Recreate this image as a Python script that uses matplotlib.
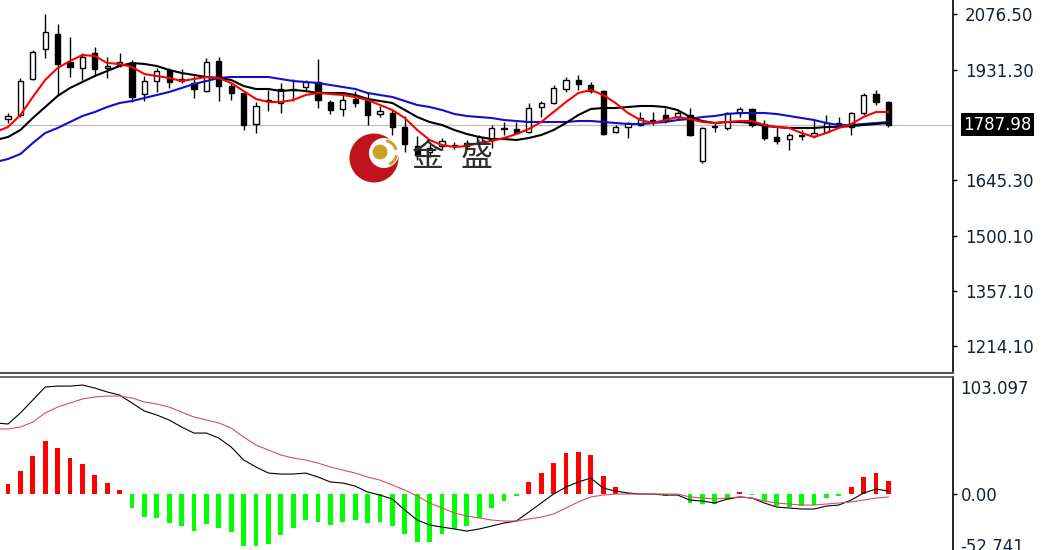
import matplotlib
matplotlib.use("Agg")
import matplotlib.pyplot as plt
import matplotlib.transforms as mtransforms
from matplotlib.patches import Circle, Wedge
import numpy as np

# daily candles (72 bars)
opens = [1803.5, 1813.9, 1907.5, 1985.5, 2024.5, 1951.7, 1936.1, 1975.1, 1936.1, 1943.9,
         1949.1, 1868.5, 1902.3, 1930.9, 1907.5, 1897.1, 1876.3, 1954.3, 1889.3, 1871.1,
         1790.5, 1850.3, 1845.1, 1878.9, 1886.7, 1899.7, 1847.7, 1829.5, 1855.5, 1855.5,
         1816.5, 1819.1, 1782.7, 1733.3, 1717.7, 1733.3, 1735.9, 1733.3, 1743.7, 1748.9,
         1777.5, 1777.5, 1769.7, 1834.7, 1845.1, 1881.5, 1904.9, 1891.9, 1876.3, 1769.7,
         1782.7, 1787.9, 1798.3, 1813.9, 1808.7, 1813.9, 1694.3, 1782.7, 1780.1, 1819.1,
         1829.5, 1790.5, 1756.7, 1751.5, 1759.3, 1759.3, 1769.7, 1793.1, 1782.7, 1819.1,
         1868.5, 1847.7]
highs = [1819.1, 1910.1, 1982.9, 2076.5, 2050.5, 2016.7, 1975.1, 1990.7, 1964.7, 1975.1,
         1956.9, 1915.3, 1936.1, 1936.1, 1933.5, 1915.3, 1962.1, 1964.7, 1897.1, 1873.7,
         1847.7, 1878.9, 1897.1, 1907.5, 1904.9, 1959.5, 1852.9, 1865.9, 1876.3, 1871.1,
         1837.3, 1829.5, 1811.3, 1759.3, 1738.5, 1754.1, 1743.7, 1748.9, 1761.9, 1787.9,
         1795.7, 1795.7, 1845.1, 1850.3, 1891.9, 1912.7, 1917.9, 1899.7, 1878.9, 1787.9,
         1795.7, 1821.7, 1821.7, 1832.1, 1826.9, 1832.1, 1782.7, 1795.7, 1821.7, 1834.7,
         1832.1, 1800.9, 1782.7, 1767.1, 1774.9, 1800.9, 1813.9, 1808.7, 1821.7, 1871.1,
         1878.9, 1850.3]
lows = [1793.1, 1808.7, 1904.9, 1962.1, 1865.9, 1912.7, 1904.9, 1915.3, 1910.1, 1938.7,
        1847.7, 1850.3, 1873.7, 1884.1, 1897.1, 1858.1, 1873.7, 1850.3, 1852.9, 1774.9,
        1767.1, 1824.3, 1819.1, 1850.3, 1873.7, 1832.1, 1816.5, 1811.3, 1834.7, 1787.9,
        1808.7, 1761.9, 1717.7, 1696.9, 1704.7, 1722.9, 1725.5, 1725.5, 1735.9, 1728.1,
        1761.9, 1767.1, 1767.1, 1808.7, 1842.5, 1873.7, 1878.9, 1871.1, 1761.9, 1767.1,
        1754.1, 1785.3, 1787.9, 1793.1, 1800.9, 1759.3, 1689.1, 1769.7, 1774.9, 1808.7,
        1782.7, 1748.9, 1738.5, 1722.9, 1748.9, 1754.1, 1767.1, 1782.7, 1761.9, 1813.9,
        1839.9, 1782.7]
closes = [1811.3, 1902.3, 1977.7, 2029.7, 1946.5, 1938.7, 1964.7, 1933.5, 1941.3, 1951.7,
          1860.7, 1902.3, 1928.3, 1899.7, 1902.3, 1881.5, 1951.7, 1889.3, 1871.1, 1787.9,
          1837.3, 1852.9, 1881.5, 1881.5, 1899.7, 1852.9, 1826.9, 1852.9, 1845.1, 1813.9,
          1824.3, 1782.7, 1738.5, 1709.9, 1728.1, 1746.3, 1733.3, 1741.1, 1756.7, 1780.1,
          1780.1, 1767.1, 1832.1, 1845.1, 1884.1, 1904.9, 1894.5, 1876.3, 1764.5, 1782.7,
          1793.1, 1806.1, 1800.9, 1800.9, 1819.1, 1761.9, 1780.1, 1785.3, 1819.1, 1829.5,
          1787.9, 1754.1, 1746.3, 1761.9, 1761.9, 1767.1, 1793.1, 1785.3, 1819.1, 1865.9,
          1847.7, 1787.98]
last_price = 1787.98

# moving averages, first value belongs to the bar just left of the window
ma_red = [1769.7, 1782.7, 1813.9, 1860.7, 1904.9, 1936.1, 1954.3, 1969.9, 1967.3, 1949.1, 1946.5,
          1938.7, 1920.5, 1915.3, 1910.1, 1902.3, 1907.5, 1912.7, 1910.1, 1897.1, 1876.3,
          1855.5, 1847.7, 1847.7, 1852.9, 1865.9, 1871.1, 1868.5, 1865.9, 1860.7, 1852.9,
          1839.9, 1826.9, 1806.1, 1774.9, 1748.9, 1735.9, 1730.7, 1733.3, 1741.1, 1746.3,
          1754.1, 1764.5, 1777.5, 1795.7, 1821.7, 1847.7, 1871.1, 1878.9, 1865.9, 1845.1,
          1819.1, 1800.9, 1793.1, 1800.9, 1808.7, 1803.5, 1795.7, 1793.1, 1795.7, 1798.3,
          1798.3, 1787.9, 1782.7, 1780.1, 1767.1, 1756.7, 1767.1, 1780.1, 1790.5, 1808.7,
          1821.7, 1821.7]
ma_black = [1748.9, 1756.7, 1774.9, 1806.1, 1834.7, 1863.3, 1884.1, 1899.7, 1915.3, 1928.3, 1941.3,
            1949.1, 1946.5, 1941.3, 1930.9, 1923.1, 1917.9, 1912.7, 1910.1, 1904.9, 1889.3,
            1881.5, 1881.5, 1876.3, 1878.9, 1876.3, 1871.1, 1871.1, 1871.1, 1865.9, 1855.5,
            1850.3, 1845.1, 1826.9, 1808.7, 1795.7, 1787.9, 1774.9, 1764.5, 1756.7, 1751.5,
            1751.5, 1748.9, 1754.1, 1761.9, 1774.9, 1793.1, 1813.9, 1829.5, 1832.1, 1832.1,
            1834.7, 1837.3, 1837.3, 1834.7, 1826.9, 1808.7, 1798.3, 1793.1, 1795.7, 1795.7,
            1793.1, 1785.3, 1782.7, 1780.1, 1780.1, 1780.1, 1782.7, 1782.7, 1785.3, 1787.9,
            1790.5, 1793.1]
ma_blue = [1691.7, 1699.5, 1712.5, 1741.1, 1767.1, 1780.1, 1795.7, 1811.3, 1821.7, 1834.7, 1845.1,
           1850.3, 1858.1, 1865.9, 1873.7, 1884.1, 1894.5, 1902.3, 1910.1, 1912.7, 1912.7,
           1912.7, 1912.7, 1907.5, 1902.3, 1899.7, 1897.1, 1891.9, 1886.7, 1881.5, 1871.1,
           1865.9, 1860.7, 1850.3, 1839.9, 1834.7, 1826.9, 1816.5, 1811.3, 1808.7, 1806.1,
           1800.9, 1798.3, 1795.7, 1795.7, 1795.7, 1795.7, 1798.3, 1798.3, 1795.7, 1793.1,
           1790.5, 1790.5, 1793.1, 1795.7, 1800.9, 1803.5, 1808.7, 1811.3, 1816.5, 1819.1,
           1819.1, 1819.1, 1816.5, 1811.3, 1806.1, 1800.9, 1793.1, 1787.9, 1787.9, 1790.5,
           1793.1, 1795.7]

# MACD panel
macd_line = [62.6, 61.7, 71.4, 82.8, 94.3, 95.1, 95.1, 96.0, 93.4, 89.9, 87.2,
             80.2, 73.1, 69.6, 65.2, 59.0, 53.7, 53.7, 49.3, 41.4, 30.0,
             23.8, 18.5, 17.6, 17.6, 18.5, 15.0, 10.6, 9.7, 7.0, 1.8,
             -0.9, -4.4, -14.1, -22.9, -27.3, -29.1, -30.8, -32.6, -30.8, -28.2,
             -25.5, -23.8, -15.9, -7.9, 0.0, 6.2, 10.6, 14.1, 5.3, 2.6,
             0.9, 0.0, 0.0, -0.9, -0.9, -5.3, -6.2, -7.9, -4.4, -2.6,
             -3.5, -7.9, -11.5, -12.3, -13.2, -13.2, -10.6, -9.7, -5.3, 0.9,
             4.4, 2.6]
macd_signal = [57.3, 57.3, 59.0, 63.4, 71.4, 76.6, 80.2, 83.7, 85.5, 86.3, 86.3,
               84.6, 81.1, 79.3, 76.6, 72.2, 67.8, 65.2, 62.6, 58.1, 50.2,
               43.2, 38.8, 34.4, 31.7, 30.0, 27.3, 23.8, 21.1, 18.5, 15.0,
               12.3, 7.9, 3.5, -1.8, -7.9, -12.3, -16.7, -19.4, -21.1, -22.9,
               -23.8, -23.8, -22.0, -20.3, -17.6, -12.3, -7.0, -2.6, -0.9, 0.0,
               0.0, 0.0, 0.0, 0.0, 0.0, -2.6, -3.5, -4.4, -3.5, -2.6,
               -3.5, -6.2, -7.9, -8.8, -9.7, -9.7, -8.8, -7.9, -7.0, -5.3,
               -3.5, -2.6]
macd_hist = [8.5, 20.3, 33.5, 46.7, 40.5, 31.7, 26.4, 16.7, 9.7, 3.5,
             -12.3, -20.3, -21.1, -25.5, -28.2, -32.6, -26.4, -30.0, -33.5, -45.8,
             -45.8, -44.1, -36.1, -30.0, -22.9, -24.7, -27.3, -24.7, -22.9, -25.5,
             -24.7, -28.2, -35.2, -42.3, -42.3, -35.2, -30.8, -28.2, -21.1, -12.3,
             -6.2, -1.3, 10.6, 18.5, 27.3, 36.1, 37.0, 34.4, 15.9, 6.2,
             0.9, 0.0, 0.0, -1.3, 0.0, -7.7, -8.8, -8.8, -5.3, 2.0,
             -0.9, -5.9, -10.6, -11.5, -10.6, -9.7, -3.5, -1.5, 6.2, 15.0,
             18.5, 11.5]

price_ticks = [2076.50, 1931.30, 1645.30, 1500.10, 1357.10, 1214.10]
macd_max, macd_min = 103.097, -52.741

label_color = "#14213d"
fs = 12
W, H = 1042, 550
fig = plt.figure(figsize=(W / 100, H / 100), dpi=100)
fig.patch.set_facecolor("white")

ax = fig.add_axes([0, 177 / H, 953 / W, 373 / H])
axm = fig.add_axes([0, 0, 953 / W, 173 / H])

o, h, l, c = map(np.array, (opens, highs, lows, closes))
x = np.arange(len(o))
xm = np.arange(-1, len(o))

# candles
up = c >= o
ax.vlines(x, l, h, color="black", lw=1, zorder=2)
ax.bar(x, np.maximum(np.abs(c - o), 0.6), bottom=np.minimum(o, c), width=0.42,
       color=np.where(up, "white", "black"), edgecolor="black", linewidth=1, zorder=3)

ax.axhline(last_price, color="#bdbdbd", lw=0.9, zorder=1)
ax.plot(xm, ma_blue, color="#1010c8", lw=1.5, zorder=4)
ax.plot(xm, ma_black, color="black", lw=1.5, zorder=4)
ax.plot(xm, ma_red, color="#ff0000", lw=1.5, zorder=5)

ax.set_xlim(-0.645, 76.21)
ax.set_ylim(1143.1, 2112.9)
ax.set_xticks([])
ax.yaxis.tick_right()
ax.set_yticks(price_ticks)
ax.set_yticklabels([f"{v:.2f}" for v in price_ticks])
ax.tick_params(axis="y", direction="out", length=3, width=1, pad=5.5,
               labelsize=fs, labelcolor=label_color)
for s in ("left", "top"):
    ax.spines[s].set_visible(False)
ax.spines["right"].set_linewidth(1.2)
ax.spines["bottom"].set_color("#555555")
ax.spines["bottom"].set_linewidth(1.5)

trans = mtransforms.blended_transform_factory(ax.transAxes, ax.transData)
ax.text(1.011, last_price, "1787.98", transform=trans, ha="left", va="center",
        fontsize=fs, color="white", clip_on=False,
        bbox=dict(boxstyle="square,pad=0.15", facecolor="black", edgecolor="none"))

# MACD
hist = np.array(macd_hist)
axm.bar(x, hist, width=0.38, color=np.where(hist >= 0, "#ff0000", "#00ff00"), zorder=2)
axm.plot(xm, macd_line, color="black", lw=0.8, zorder=3)
axm.plot(xm, macd_signal, color="#dc4c6a", lw=0.8, zorder=3)
axm.set_xlim(-0.645, 76.21)
axm.set_ylim(-49.3, macd_max)
axm.set_xticks([])
axm.yaxis.tick_right()
axm.set_yticks([0])
axm.set_yticklabels(["0.00"])
axm.tick_params(axis="y", direction="out", length=3, width=1, pad=2.5,
                labelsize=fs, labelcolor=label_color)
for s in ("left", "bottom"):
    axm.spines[s].set_visible(False)
axm.spines["right"].set_linewidth(1.2)
axm.spines["top"].set_color("#555555")
axm.spines["top"].set_linewidth(1.2)
axm.text(1.008, 0.985, f"{macd_max:.3f}", transform=axm.transAxes, ha="left", va="top",
         fontsize=fs, color=label_color, clip_on=False)
axm.text(1.008, 0.07, f"{macd_min:.3f}", transform=axm.transAxes, ha="left", va="top",
         fontsize=fs, color=label_color, clip_on=False)

# watermark logo
lg = fig.add_axes([0, 0, 1, 1], zorder=10)
lg.set_xlim(0, W)
lg.set_ylim(H, 0)
lg.axis("off")
lg.add_patch(Circle((374, 158), 24.5, facecolor="#c0141c", edgecolor="none"))
lg.add_patch(Circle((384, 153), 15, facecolor="white", edgecolor="none"))
lg.add_patch(Wedge((384, 153), 14, 280, 345, width=3, facecolor="#c9a227", edgecolor="none"))
lg.add_patch(Wedge((384, 153), 14, 10, 65, width=3, facecolor="#c9a227", edgecolor="none"))
lg.add_patch(Circle((380, 152), 7.5, facecolor="#c9a227", edgecolor="none"))
lg.text(428, 157, "金", fontsize=23, family=["Noto Sans CJK SC", "DejaVu Sans"],
        color="#2e2e2e", ha="center", va="center")
lg.text(477, 157, "盛", fontsize=23, family=["Noto Sans CJK SC", "DejaVu Sans"],
        color="#2e2e2e", ha="center", va="center")

fig.savefig("out.png", dpi=100)
